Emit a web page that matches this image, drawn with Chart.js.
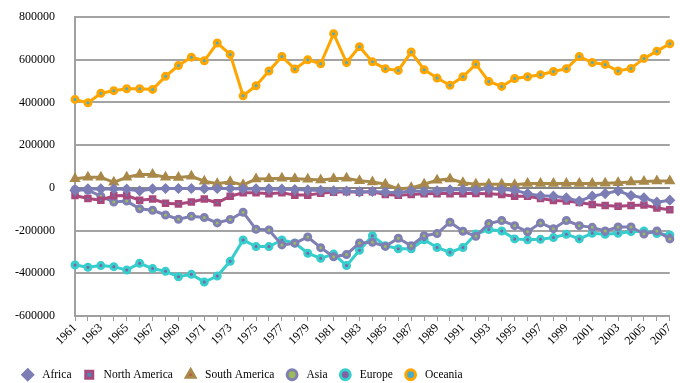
<!DOCTYPE html>
<html>
<head>
<meta charset="utf-8">
<script src="https://cdn.jsdelivr.net/npm/chart.js@4.4.1/dist/chart.umd.min.js"></script>
<style>
  html, body { margin: 0; padding: 0; background: #fff; }
  #wrap { width: 680px; height: 383px; position: relative; }
</style>
</head>
<body>
<div id="wrap"><canvas id="chart" width="680" height="383"></canvas></div>
<script>
// Years on the category axis
const years = [];
for (let y = 1961; y <= 2007; y++) years.push(String(y));

// Series values by region, 1961-2007
const africa = [
  -12000, -5000, -5000, -5000, -6000, -14000, -5000, -3000, -3000, -3000,
  -4000, -3000, -3000, -5000, -5000, -5000, -6000, -8000, -10000, -12000,
  -14000, -15000, -19000, -17000, -20000, -23000, -14000, -17000, -14000, -9000,
  -8000, -11000, -3000, -8000, -11000, -27000, -37000, -39000, -47000, -62000,
  -39000, -27000, -14000, -36000, -47000, -67000, -58000
];
const northAmerica = [
  -36000, -50000, -58000, -37000, -36000, -58000, -52000, -72000, -75000, -66000,
  -52000, -70000, -39000, -23000, -23000, -27000, -23000, -34000, -34000, -25000,
  -20000, -18000, -20000, -18000, -31000, -35000, -31000, -28000, -27000, -27000,
  -27000, -26000, -28000, -31000, -39000, -39000, -50000, -59000, -62000, -69000,
  -78000, -83000, -86000, -83000, -80000, -94000, -102000
];
const southAmerica = [
  43000, 50000, 50000, 26000, 50000, 62000, 62000, 50000, 48000, 54000,
  31000, 19000, 29000, 14000, 41000, 43000, 45000, 43000, 40000, 37000,
  43000, 45000, 33000, 28000, 17000, -5000, 0, 17000, 36000, 42000,
  24000, 17000, 17000, 17000, 14000, 20000, 20000, 20000, 20000, 20000,
  20000, 22000, 24000, 27000, 30000, 32000, 32000
];
const asia = [
  -8000, -11000, -39000, -66000, -62000, -98000, -105000, -127000, -147000, -133000,
  -139000, -164000, -148000, -114000, -194000, -197000, -267000, -259000, -230000, -280000,
  -323000, -312000, -258000, -255000, -274000, -236000, -271000, -224000, -214000, -161000,
  -203000, -227000, -167000, -153000, -177000, -206000, -164000, -191000, -153000, -177000,
  -185000, -202000, -183000, -183000, -216000, -202000, -239000
];
const europe = [
  -361000, -372000, -364000, -369000, -385000, -353000, -378000, -391000, -416000, -405000,
  -441000, -413000, -344000, -244000, -275000, -275000, -244000, -258000, -306000, -330000,
  -310000, -364000, -292000, -224000, -271000, -285000, -285000, -243000, -279000, -302000,
  -279000, -216000, -195000, -202000, -239000, -243000, -241000, -233000, -217000, -239000,
  -213000, -217000, -213000, -205000, -202000, -214000, -221000
];
const oceania = [
  414000, 398000, 443000, 455000, 464000, 464000, 461000, 522000, 573000, 612000,
  595000, 678000, 625000, 431000, 478000, 547000, 615000, 556000, 600000, 581000,
  722000, 587000, 661000, 590000, 558000, 550000, 636000, 553000, 514000, 480000,
  520000, 579000, 498000, 475000, 512000, 520000, 530000, 545000, 558000, 615000,
  587000, 578000, 547000, 559000, 606000, 640000, 675000
];

// Value axis range and step
const yMin = -600000, yMax = 800000, yStep = 200000;

function series(label, data, color, centre, style, rad) {
  return {
    label: label,
    data: data,
    borderColor: color,
    backgroundColor: centre,
    borderWidth: 3,
    pointStyle: style,
    pointRadius: rad,
    pointBorderWidth: 3,
    pointBorderColor: color,
    pointBackgroundColor: centre,
    tension: 0,
    fill: false
  };
}

const serif = "'Liberation Serif', 'Times New Roman', serif";

// Keep the legend strip compact below the rotated year labels
const compactLegend = {
  id: 'compactLegend',
  afterInit(chart) {
    const legend = chart.legend;
    if (!legend) return;
    const fit = legend.fit.bind(legend);
    legend.fit = function () { fit(); this.height = 26; };
  }
};

new Chart(document.getElementById('chart'), {
  type: 'line',
  data: {
    labels: years,
    datasets: [
      series('Africa', africa, '#7d7db6', '#7d7db6', 'rectRot', 3.5),
      series('North America', northAmerica, '#a9487c', '#4a8ab8', 'rect', 3.2),
      series('South America', southAmerica, '#a8894a', '#c0504d', 'triangle', 3.5),
      series('Asia', asia, '#7f7fb3', '#9bbb59', 'circle', 3),
      series('Europe', europe, '#36cdcd', '#8064a2', 'circle', 3),
      series('Oceania', oceania, '#ffa500', '#4bacc6', 'circle', 3)
    ]
  },
  plugins: [compactLegend],
  options: {
    responsive: false,
    animation: false,
    layout: { padding: { left: 10, right: 10, top: 17, bottom: 0 } },
    plugins: {
      tooltip: { enabled: false },
      legend: {
        position: 'bottom',
        align: 'start',
        labels: {
          usePointStyle: true,
          boxWidth: 11.5,
          boxHeight: 7,
          padding: 12,
          color: '#000',
          font: { family: serif, size: 11.5 },
          generateLabels: function (chart) {
            const items = Chart.defaults.plugins.legend.labels.generateLabels(chart);
            items.forEach(function (it) { it.text = ' ' + it.text; });
            return items;
          }
        }
      }
    },
    scales: {
      x: {
        offset: false,
        grid: {
          display: true,
          drawOnChartArea: false,
          drawTicks: true,
          tickLength: 5,
          color: '#999',
          lineWidth: 1
        },
        border: { display: true, color: '#a0a0a0', width: 2 },
        ticks: {
          autoSkip: false,
          maxRotation: 45,
          minRotation: 45,
          padding: 0,
          color: '#000',
          font: { family: serif, size: 12 },
          callback: function (v, i) { return i % 2 === 0 ? years[i] : ''; }
        },
        afterFit: function (s) { s.height = 41; }
      },
      y: {
        min: yMin,
        max: yMax,
        grid: {
          drawTicks: true,
          tickLength: 18,
          tickColor: 'rgba(0,0,0,0)',
          lineWidth: 2,
          color: function (c) { return c.tick && c.tick.value === 0 ? '#858585' : '#a3a3a3'; }
        },
        border: { display: true, color: '#a0a0a0', width: 2 },
        ticks: {
          stepSize: yStep,
          padding: 2,
          color: '#000',
          font: { family: serif, size: 12 },
          callback: function (v) { return String(v); }
        },
        afterFit: function (s) { s.width = 65; }
      }
    }
  }
});
</script>
</body>
</html>
